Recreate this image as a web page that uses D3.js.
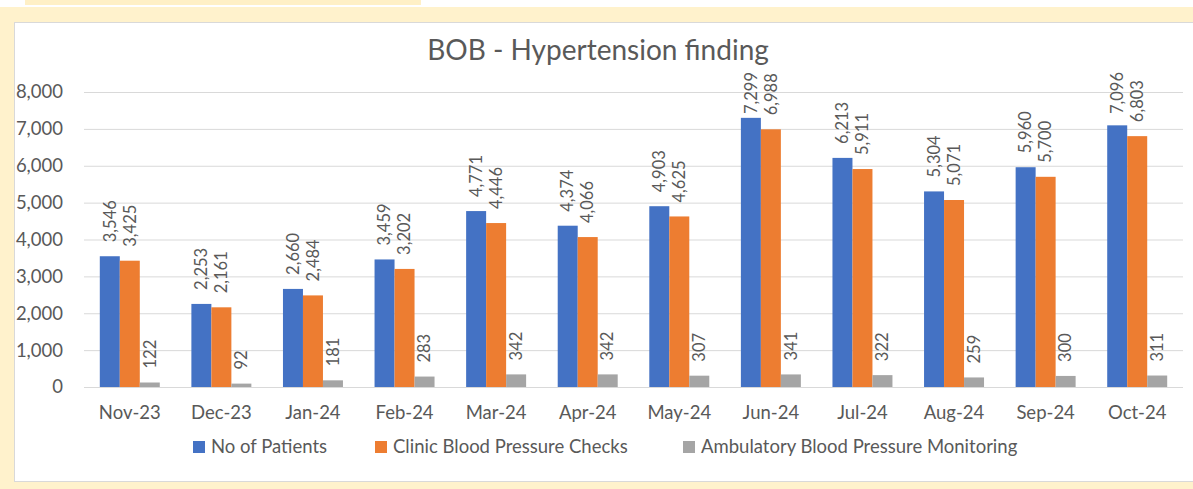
<!DOCTYPE html>
<html lang="en">
<head>
    <meta charset="UTF-8">
    <title>BOB - Hypertension finding</title>
    <script src="https://cdn.jsdelivr.net/npm/d3@7/dist/d3.min.js"></script>
    <style>
        body{margin: 0; background: #fff2cc}
        svg text{font-family: Lato, "Open Sans", sans-serif; fill: #595959}
        .grid line{stroke: #d9d9d9; stroke-width: 1}
        .grid .domain{display: none}
    </style>
</head>
<body>
    <svg></svg>
    <script>
        var months = ['Nov-23', 'Dec-23', 'Jan-24', 'Feb-24', 'Mar-24', 'Apr-24', 'May-24', 'Jun-24', 'Jul-24', 'Aug-24', 'Sep-24', 'Oct-24']
        var seriesNames = ['No of Patients', 'Clinic Blood Pressure Checks', 'Ambulatory Blood Pressure Monitoring']
        var patients = [3546, 2253, 2660, 3459, 4771, 4374, 4903, 7299, 6213, 5304, 5960, 7096]
        var clinicChecks = [3425, 2161, 2484, 3202, 4446, 4066, 4625, 6988, 5911, 5071, 5700, 6803]
        var ambulatory = [122, 92, 181, 283, 342, 342, 307, 341, 322, 259, 300, 311]
        var yTicks = [0, 1000, 2000, 3000, 4000, 5000, 6000, 7000, 8000]
        var colors = ['#4472c4', '#ed7d31', '#a5a5a5']

        var series = [patients, clinicChecks, ambulatory]

        var width = 1193, height = 489
        var plot = {left: 84, right: 1183, top: 92, bottom: 387}

        var svg = d3.select('svg')
            .attr('width', width)
            .attr('height', height)

        // page frame
        svg.append('rect').attr('x', 0).attr('y', 0).attr('width', width).attr('height', 7).attr('fill', '#fff')
        svg.append('rect').attr('x', 25).attr('y', 0).attr('width', 396).attr('height', 5).attr('fill', '#fff0c6')
        svg.append('rect')
            .attr('x', 14.5).attr('y', 22.5)
            .attr('width', width).attr('height', 459)
            .attr('fill', '#fff')
            .attr('stroke', '#d9d9d9')

        // scales
        var x0 = d3.scaleBand()
            .domain(months)
            .range([plot.left, plot.right])
            .paddingInner(0.345)
            .paddingOuter(0.1725)
        var x1 = d3.scaleBand()
            .domain(d3.range(series.length))
            .range([0, x0.bandwidth()])
        var y = d3.scaleLinear()
            .domain([0, 8000])
            .range([plot.bottom, plot.top])

        // gridlines
        svg.append('g')
            .attr('class', 'grid')
            .attr('transform', `translate(${plot.left}, 0)`)
            .call(d3.axisLeft(y).tickValues(yTicks).tickSize(-(plot.right - plot.left)).tickFormat(''))

        // y labels
        svg.append('g')
            .selectAll('text')
            .data(yTicks)
            .enter()
            .append('text')
            .attr('x', 63)
            .attr('y', d => y(d))
            .attr('dy', '0.35em')
            .attr('text-anchor', 'end')
            .style('font-size', '18.5px')
            .text(d3.format(','))

        // x labels
        svg.append('g')
            .selectAll('text')
            .data(months)
            .enter()
            .append('text')
            .attr('x', d => x0(d) + x0.bandwidth() / 2)
            .attr('y', 419)
            .attr('text-anchor', 'middle')
            .style('font-size', '18.5px')
            .text(d => d)

        // bars
        var groups = svg.append('g')
            .selectAll('g')
            .data(series)
            .enter()
            .append('g')
            .attr('fill', (d, i) => colors[i])

        groups.each(function(vals, si) {
            var g = d3.select(this)
            g.selectAll('rect')
                .data(vals)
                .enter()
                .append('rect')
                .attr('x', (d, i) => x0(months[i]) + x1(si))
                .attr('y', d => y(d))
                .attr('width', x1.bandwidth())
                .attr('height', d => plot.bottom - y(d))

            // rotated data labels
            g.selectAll('text')
                .data(vals)
                .enter()
                .append('text')
                .attr('transform', function(d, i) {
                    var cx = x0(months[i]) + x1(si) + x1.bandwidth() / 2
                    var cy = y(d) - 14
                    return `translate(${cx}, ${cy}) rotate(-90)`
                })
                .attr('dy', '0.35em')
                .style('font-size', '16.5px')
                .text(d3.format(','))
                .each(function() {
                    // keep labels inside the top of the chart, like Excel does
                    var len = this.getComputedTextLength()
                    var t = this.getAttribute('transform')
                    var m = /translate\(([^,]+), ([^)]+)\)/.exec(t)
                    var cy = +m[2]
                    if (cy - len < 72) {
                        this.setAttribute('transform', `translate(${m[1]}, ${72 + len}) rotate(-90)`)
                    }
                })
        })

        // title
        svg.append('text')
            .attr('x', 598)
            .attr('y', 60)
            .attr('text-anchor', 'middle')
            .style('font-size', '28px')
            .text('BOB - Hypertension finding')

        // legend
        var legendX = [193, 375, 683]
        var legend = svg.append('g')
            .selectAll('g')
            .data(seriesNames)
            .enter()
            .append('g')
            .attr('transform', (d, i) => `translate(${legendX[i]}, 441)`)
        legend.append('rect')
            .attr('width', 12)
            .attr('height', 12)
            .attr('fill', (d, i) => colors[i])
        legend.append('text')
            .attr('x', 18)
            .attr('y', 6)
            .attr('dy', '0.35em')
            .style('font-size', '18.5px')
            .text(d => d)
    </script>
</body>
</html>
